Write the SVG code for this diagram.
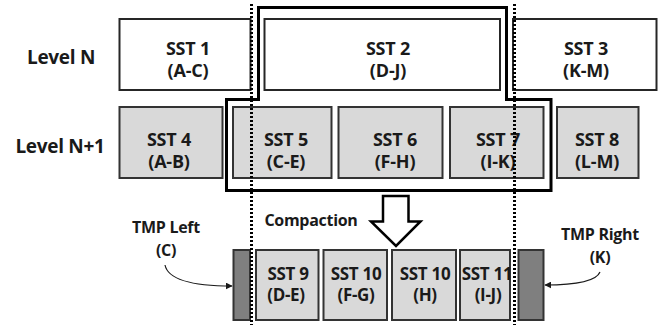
<svg xmlns="http://www.w3.org/2000/svg" width="667" height="325" viewBox="0 0 667 325">
  <style>
    text { font-family: "Open Sans", "Liberation Sans", sans-serif; font-weight: bold; fill: #1a1a1a; text-anchor: middle; }
    .lvl { font-size: 19px; letter-spacing: -0.3px; }
    .t { font-size: 18px; letter-spacing: -0.2px; }
    .b { font-size: 17px; letter-spacing: -0.3px; }
    .n { font-size: 16px; letter-spacing: -0.3px; }
    .top { fill: #ffffff; stroke: #262626; stroke-width: 2; }
    .sst { fill: #d9d9d9; stroke: #333333; stroke-width: 2; }
    .tmp { fill: #7f7f7f; stroke: #333333; stroke-width: 2; }
  </style>
  <defs>
    <marker id="tip" viewBox="0 0 10 10" refX="9" refY="5" markerWidth="7" markerHeight="7" orient="auto" markerUnits="userSpaceOnUse">
      <path d="M0,0 L10,5 L0,10 z" fill="#1a1a1a"/>
    </marker>
  </defs>

  <rect width="667" height="325" fill="#ffffff"/>

  <!-- level labels -->
  <text class="lvl" x="61" y="64">Level N</text>
  <text class="lvl" x="60" y="153">Level N+1</text>

  <!-- level N -->
  <g id="sst1"><rect class="top" x="119.5" y="19" width="131" height="71"/><text class="t" x="188" y="55">SST 1</text><text class="t" x="188" y="77">(A-C)</text></g>
  <g id="sst2"><rect class="top" x="264.5" y="19" width="235.5" height="71"/><text class="t" x="388" y="55">SST 2</text><text class="t" x="388" y="77">(D-J)</text></g>
  <g id="sst3"><rect class="top" x="513" y="19" width="143.5" height="71"/><text class="t" x="586" y="55">SST 3</text><text class="t" x="586" y="77">(K-M)</text></g>

  <!-- level N+1 -->
  <g id="sst4"><rect class="sst" x="119.5" y="107" width="103" height="71"/><text class="t" x="169" y="146">SST 4</text><text class="t" x="169" y="168">(A-B)</text></g>
  <g id="sst5"><rect class="sst" x="233" y="107" width="98.5" height="71"/><text class="t" x="286" y="146">SST 5</text><text class="t" x="286" y="168">(C-E)</text></g>
  <g id="sst6"><rect class="sst" x="338.5" y="107" width="104" height="71"/><text class="t" x="395" y="146">SST 6</text><text class="t" x="395" y="168">(F-H)</text></g>
  <g id="sst7"><rect class="sst" x="450" y="107" width="93.5" height="71"/><text class="t" x="498" y="146">SST 7</text><text class="t" x="498" y="168">(I-K)</text></g>
  <g id="sst8"><rect class="sst" x="557" y="107" width="81.5" height="71"/><text class="t" x="597" y="146">SST 8</text><text class="t" x="597" y="168">(L-M)</text></g>

  <!-- output of the compaction -->
  <g id="tmp-left-box"><rect class="tmp" x="233.5" y="250" width="16.5" height="70"/></g>
  <g id="sst9"><rect class="sst" x="256" y="250" width="62.5" height="70"/><text class="b" x="288" y="280">SST 9</text><text class="b" x="286" y="301">(D-E)</text></g>
  <g id="sst10a"><rect class="sst" x="323.5" y="250" width="63.5" height="70"/><text class="b" x="356" y="280">SST 10</text><text class="b" x="356" y="301">(F-G)</text></g>
  <g id="sst10b"><rect class="sst" x="392" y="250" width="64" height="70"/><text class="b" x="425" y="280">SST 10</text><text class="b" x="425" y="301">(H)</text></g>
  <g id="sst11"><rect class="sst" x="460" y="250" width="50" height="70"/><text class="b" x="487" y="280">SST 11</text><text class="b" x="488" y="301">(I-J)</text></g>
  <g id="tmp-right-box"><rect class="tmp" x="518.5" y="250" width="25" height="70"/></g>

  <!-- annotations -->
  <g id="tmp-left"><text class="n" x="166" y="233">TMP Left</text><text class="n" x="166" y="256">(C)</text></g>
  <g id="tmp-right"><text class="n" x="600" y="240">TMP Right</text><text class="n" x="600" y="263">(K)</text></g>
  <g id="compaction-label"><text class="n" x="311" y="226">Compaction</text></g>

  <!-- connectors -->
  <g id="connectors" fill="none" stroke="#1a1a1a">
    <!-- compaction scope -->
    <path d="M258.5,7.5 H506.5 V99.5 H551 V190.5 H226.5 V99.5 H258.5 Z" stroke="#000000" stroke-width="3"/>
    <!-- key range boundaries -->
    <line x1="251.5" y1="4" x2="251.5" y2="325" stroke="#000000" stroke-width="3" stroke-dasharray="2 2"/>
    <line x1="514.5" y1="4" x2="514.5" y2="325" stroke="#000000" stroke-width="3" stroke-dasharray="2 2"/>
    <!-- compaction arrow -->
    <path d="M383,196 H408.5 V221.5 H420.5 L396,246 L371,221.5 H383 Z" fill="#ffffff" stroke="#000000" stroke-width="2.5" stroke-linejoin="miter"/>
    <!-- callouts -->
    <path d="M165,265 C168,280 195,286 232,286" stroke-width="1.2" marker-end="url(#tip)"/>
    <path d="M600,272 C596,282 575,285 545,285" stroke-width="1.2" marker-end="url(#tip)"/>
  </g>
</svg>
